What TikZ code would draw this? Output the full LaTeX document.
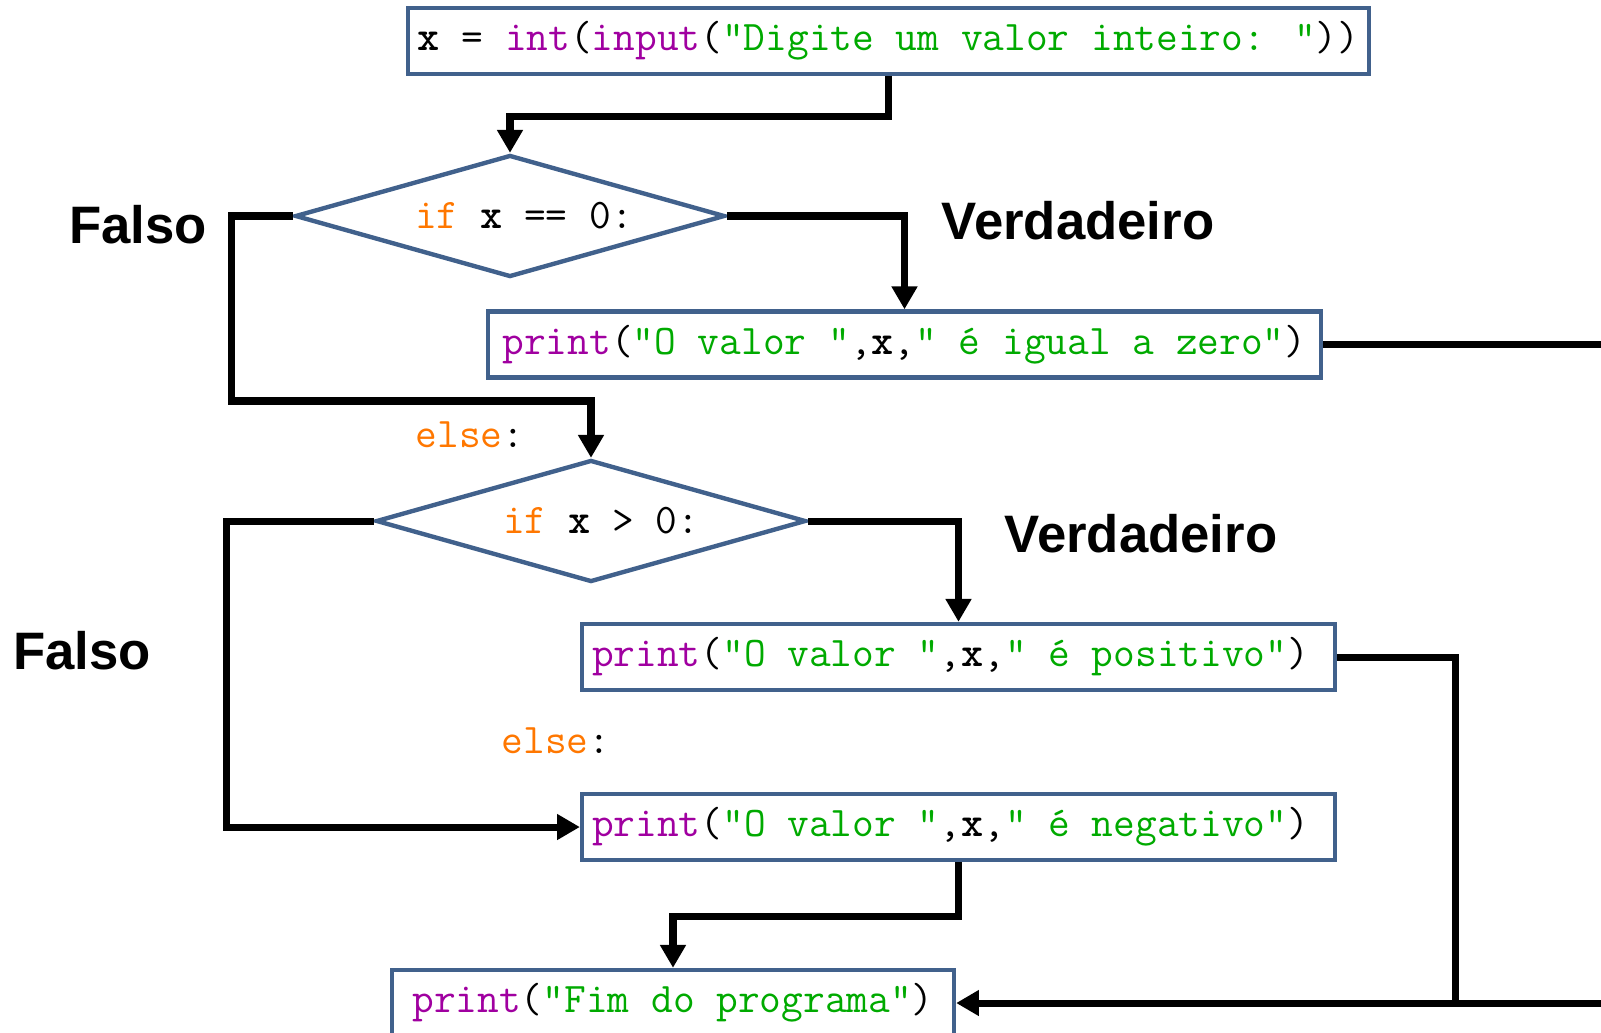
\documentclass[tikz,border=0pt]{standalone}
\usepackage{fontspec}
\setmainfont{Liberation Sans}
\usetikzlibrary{shapes.geometric,arrows.meta}
\definecolor{boxblue}{RGB}{65,97,140}
\definecolor{kwcolor}{RGB}{255,119,0}
\definecolor{bicolor}{RGB}{160,0,160}
\definecolor{strcolor}{RGB}{0,170,0}
\newcommand{\kwd}[1]{\textcolor{kwcolor}{#1}}
\newcommand{\bltin}[1]{\textcolor{bicolor}{#1}}
\newcommand{\strg}[1]{\textcolor{strcolor}{#1}}
\tikzset{
  codebox/.style={draw=boxblue, line width=2.5pt, rectangle, inner xsep=0.05cm,
    inner ysep=0pt, minimum height=1.32cm,
    font=\ttfamily\fontsize{24}{27}\selectfont},
  decision/.style={draw=boxblue, line width=2.5pt, diamond, shape aspect=3.5,
    inner sep=0pt, minimum width=8.6cm, minimum height=2.44cm,
    font=\ttfamily\fontsize{24}{27}\selectfont},
  codetext/.style={font=\ttfamily\fontsize{24}{27}\selectfont},
  answer/.style={font=\bfseries\fontsize{30}{36}\selectfont},
  wire/.style={line width=4pt},
  flow/.style={wire, -{Triangle[length=13pt,width=14pt]}},
}
\begin{document}
\begin{tikzpicture}[x=0.02cm, y=-0.02cm]
  \useasboundingbox (0,0) rectangle (1601,1032);

  % Statements and tests
  \node [codebox, minimum width=19.22cm] (read) at (888.5,41)
    {\textbf{x} = \bltin{int}(\bltin{input}(\strg{"Digite um valor inteiro: "}))};
  \node [decision] (iszero) at (510,216) {\hspace*{0.56cm}\kwd{if} \textbf{x} == 0:};
  \node [codebox, minimum width=16.66cm] (zero) at (904.5,344.5)
    {\bltin{print}(\strg{"O valor "},\textbf{x},\strg{" é igual a zero"})};
  \node [decision] (ispos) at (591,521) {\hspace*{0.4cm}\kwd{if} \textbf{x} > 0:};
  \node [codebox, minimum width=15.06cm, inner xsep=0.2cm] (pos) at (958.5,657)
    {\makebox[14.66cm][l]{\bltin{print}(\strg{"O valor "},\textbf{x},\strg{" é positivo"})}};
  \node [codebox, minimum width=15.06cm, inner xsep=0.2cm] (neg) at (958.5,827)
    {\makebox[14.66cm][l]{\bltin{print}(\strg{"O valor "},\textbf{x},\strg{" é negativo"})}};
  \node [codebox, minimum width=11.24cm] (fim) at (673,1003)
    {\bltin{print}(\strg{"Fim do programa"})};

  % else: labels
  \node [codetext] (else1) at (470,435) {\kwd{else}:};
  \node [codetext] (else2) at (556,741) {\kwd{else}:};

  % Branch labels
  \foreach \name/\pos/\lab in {
    falsoA/{(138,225)}/Falso,
    verdA/{(1078,221)}/Verdadeiro,
    verdB/{(1141,534)}/Verdadeiro,
    falsoB/{(82,651)}/Falso} {
    \node [answer] (\name) at \pos {\lab};
  }

  % Connectors
  \coordinate (edgeA) at (1601,344.5);
  \coordinate (edgeB) at (1601,1003);
  \coordinate (merge) at (1455,1003);
  \draw [flow] (read.south) -- ++(0,40) -| (iszero.north);
  \draw [flow] (iszero.east) -| (zero.north);
  \draw [flow] (iszero.west) -- ++(-61,0) -- ++(0,185) -| (ispos.north);
  \draw [flow] (ispos.east) -| (pos.north);
  \draw [flow] (ispos.west) -- ++(-147,0) |- (neg.west);
  \draw [flow] (neg.south) -- ++(0,54) -| (fim.north);
  \draw [wire] (zero.east) -- (edgeA);
  \draw [wire] (pos.east) -| (merge);
  \draw [flow] (edgeB) -- (fim.east);
\end{tikzpicture}
\end{document}
